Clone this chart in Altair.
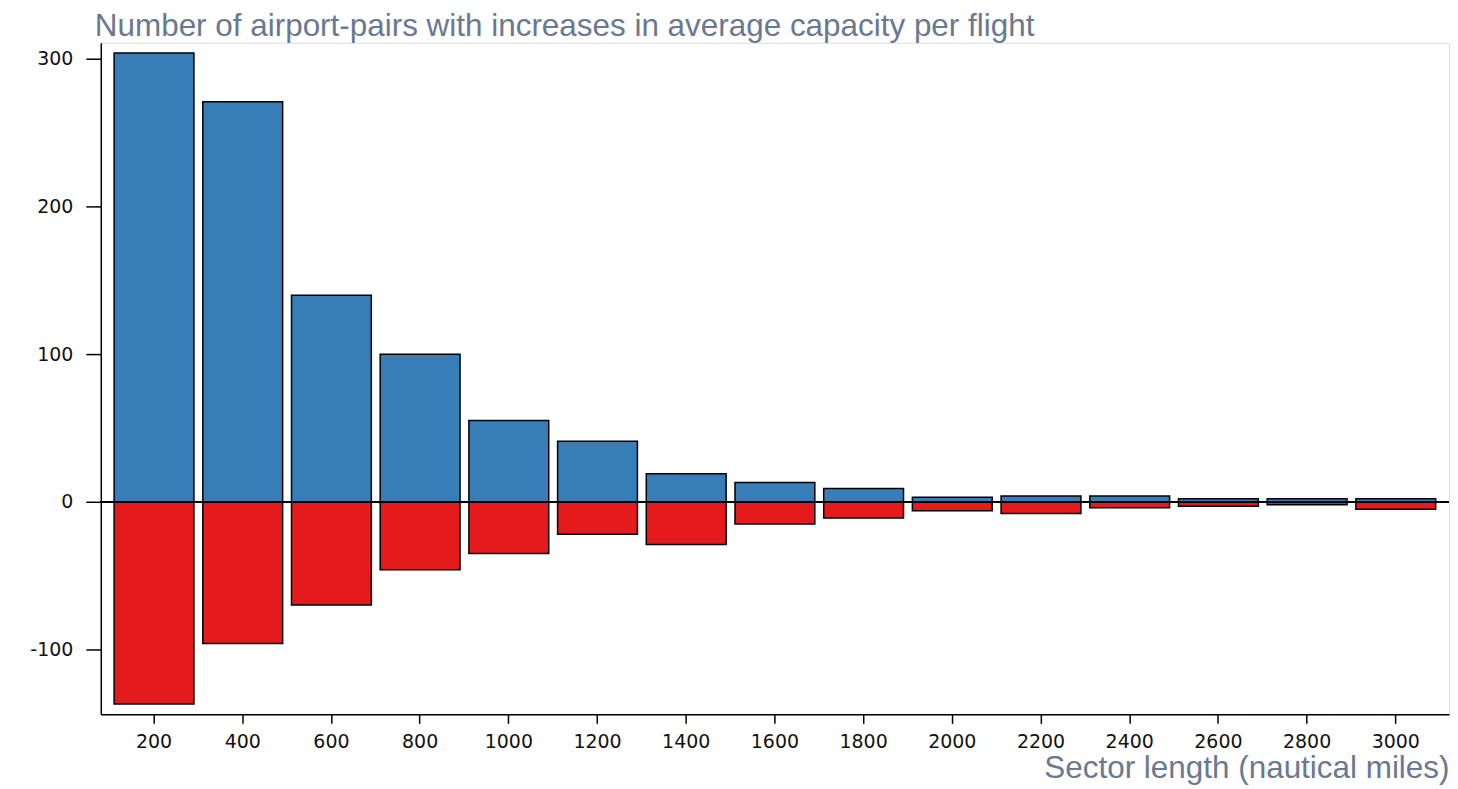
import altair as alt
import pandas as pd

categories = ["200", "400", "600", "800", "1000", "1200", "1400", "1600",
              "1800", "2000", "2200", "2400", "2600", "2800", "3000"]
increases = [304, 271, 140, 100, 55, 41, 19, 13, 9, 3, 4, 4, 2, 2, 2]
decreases = [-137, -96, -70, -46, -35, -22, -29, -15, -11, -6, -8, -4, -3, -2, -5]
series_names = ["Increase", "Decrease"]
series_colors = ["#377eb8", "#e41a1c"]
y_ticks = [-100, 0, 100, 200, 300]

rows = []
for c, v in zip(categories, increases):
    rows.append({"sector": c, "value": v, "series": series_names[0]})
for c, v in zip(categories, decreases):
    rows.append({"sector": c, "value": v, "series": series_names[1]})
df = pd.DataFrame(rows)

label_font = "DejaVu Sans"
title_font = "Liberation Sans"
title_color = "#6a7891"
title_size = 31.5

x_enc = alt.X(
    "sector:O",
    sort=categories,
    scale=alt.Scale(paddingInner=0.1, paddingOuter=0.15),
    axis=alt.Axis(
        title="Sector length (nautical miles)",
        titleAnchor="end",
        titleAlign="right",
        titleBaseline="alphabetic",
        titleY=63,
        titleFont=title_font,
        titleFontSize=title_size,
        titleFontWeight="normal",
        titleColor=title_color,
        labelAngle=0,
        labelFont=label_font,
        labelFontSize=19,
        labelColor="#111111",
        labelPadding=9,
        tickSize=9,
        tickColor="black",
        tickWidth=1.5,
        domainColor="black",
        domainWidth=1.5,
    ),
)

bars = alt.Chart(df).mark_bar(stroke="black", strokeWidth=1.5).encode(
    x=x_enc,
    y=alt.Y(
        "value:Q",
        scale=alt.Scale(domain=[-144, 311], nice=False, zero=False),
        axis=alt.Axis(
            title=None,
            values=y_ticks,
            labelExpr="datum.value < 0 ? '-' + abs(datum.value) : '' + datum.value",
            labelFont=label_font,
            labelFontSize=19,
            labelColor="#111111",
            labelPadding=13,
            tickSize=15,
            tickColor="black",
            tickWidth=1.5,
            domainColor="black",
            domainWidth=1.5,
            grid=False,
        ),
    ),
    color=alt.Color(
        "series:N",
        scale=alt.Scale(domain=series_names, range=series_colors),
        legend=None,
    ),
)

zero_line = alt.Chart(df).mark_rule(color="black", strokeWidth=1.2).encode(
    y=alt.datum(0)
)

chart = (
    alt.layer(bars, zero_line)
    .properties(
        width=1351,
        height=673,
        padding={"left": 21, "top": 2, "right": 0, "bottom": 0},
        title=alt.TitleParams(
            "Number of airport-pairs with increases in average capacity per flight",
            anchor="start",
            frame="group",
            dx=-6,
            font=title_font,
            fontSize=title_size,
            fontWeight="normal",
            color=title_color,
            offset=0,
        ),
    )
    .configure_view(stroke="black", strokeWidth=1.5)
    .configure(background="white")
)

chart.save("out.html", embed_options={"renderer": "svg", "actions": False})
